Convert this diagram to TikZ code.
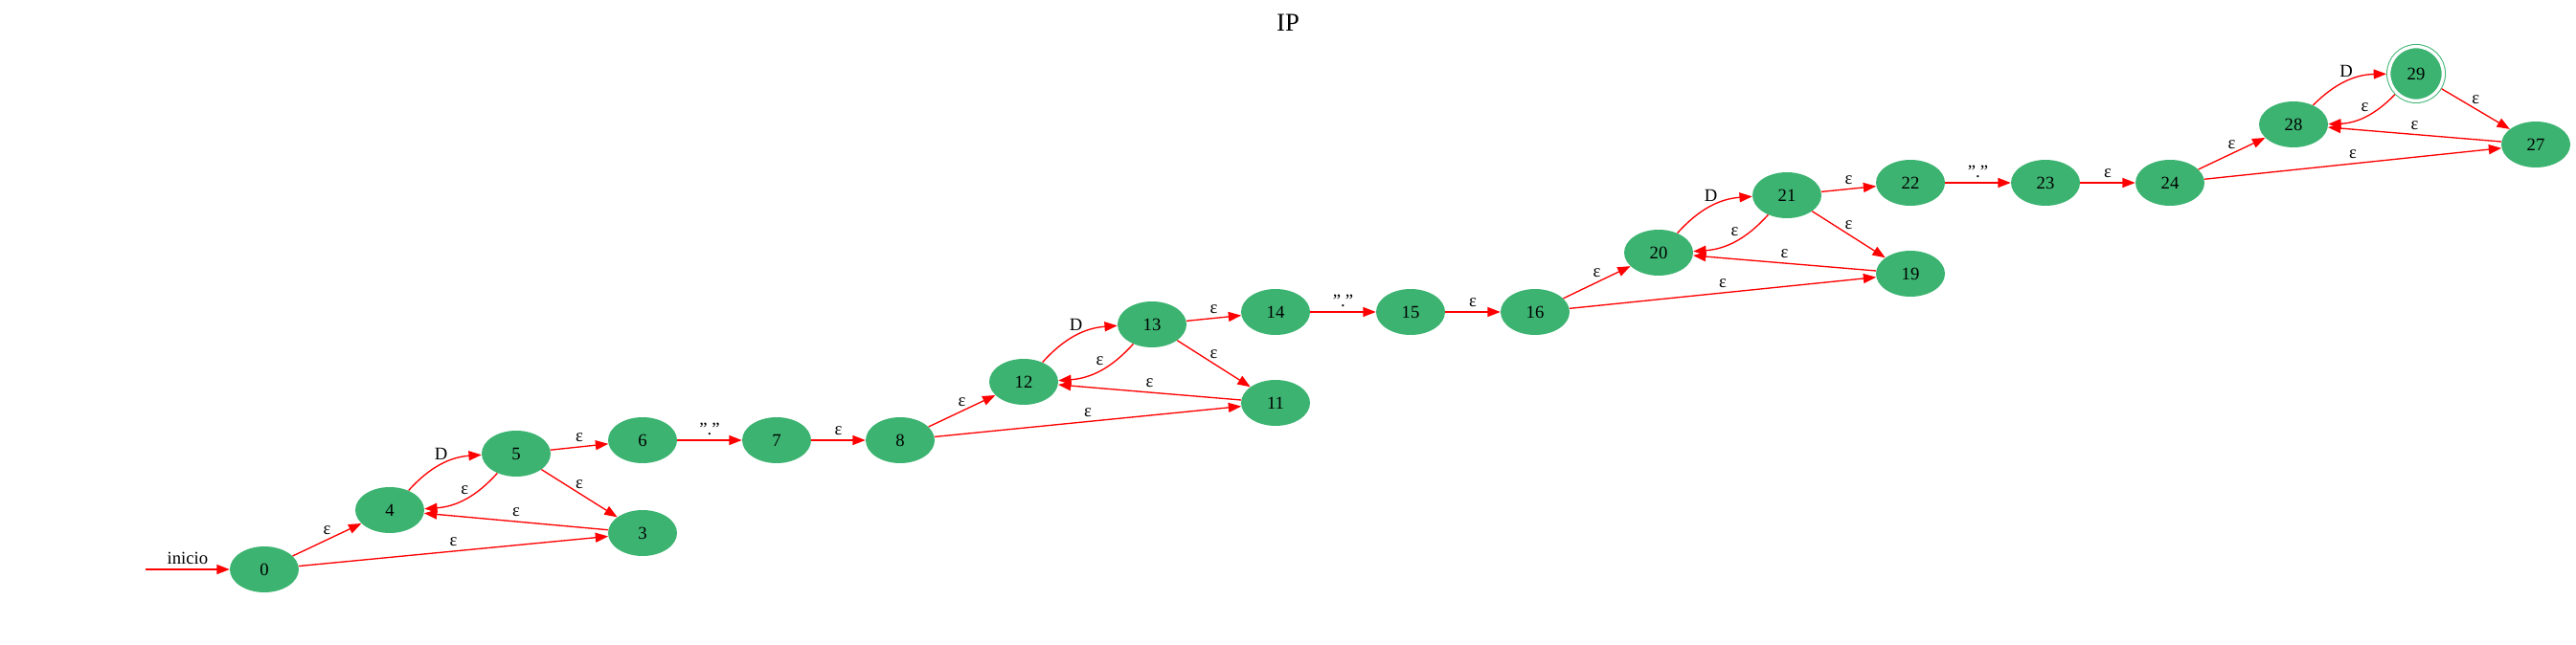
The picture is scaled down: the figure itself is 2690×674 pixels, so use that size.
\documentclass[tikz,border=0pt]{standalone}
\usepackage{fontspec}
\setmainfont{Liberation Serif}
\usepackage{tikz}
\usetikzlibrary{shapes.geometric,arrows.meta}
\definecolor{stategreen}{RGB}{60,179,113}

\begin{document}
\begin{tikzpicture}[
    x=0.75pt, y=-0.75pt,
    font=\fontsize{14}{16}\selectfont,
    state/.style={ellipse, fill=stategreen, minimum width=54pt, minimum height=36pt, inner sep=0pt},
    final/.style={circle, fill=stategreen, draw=stategreen, double=white, double distance=2.5pt, line width=0.75pt, minimum size=42.5pt, inner sep=0pt, outer sep=2pt},
    trans/.style={-{Triangle[length=10pt, width=7.5pt]}, draw=red, line width=1pt},
    lbl/.style={midway, above}
]
\useasboundingbox (0,0) rectangle (2690,674);
\node[font=\fontsize{20}{22}\selectfont] (title) at (1345,24) {IP};

\coordinate (start) at (152,595);
\node[state] (q0) at (276,595) {0};
\node[state] (q4) at (407,533) {4};
\node[state] (q5) at (539,474) {5};
\node[state] (q3) at (671,557) {3};
\node[state] (q6) at (671,460) {6};
\node[state] (q7) at (811,460) {7};
\node[state] (q8) at (940,460) {8};
\node[state] (q12) at (1069,399) {12};
\node[state] (q13) at (1203,339) {13};
\node[state] (q11) at (1332,421) {11};
\node[state] (q14) at (1332,326) {14};
\node[state] (q15) at (1473,326) {15};
\node[state] (q16) at (1603,326) {16};
\node[state] (q20) at (1732,264) {20};
\node[state] (q21) at (1866,204) {21};
\node[state] (q19) at (1995,286) {19};
\node[state] (q22) at (1995,191) {22};
\node[state] (q23) at (2136,191) {23};
\node[state] (q24) at (2266,191) {24};
\node[state] (q28) at (2395,130) {28};
\node[final] (q29) at (2523,77) {29};
\node[state] (q27) at (2648,151) {27};

\draw[trans] (start) -- node[lbl] {inicio} (q0);
\foreach \a/\b/\t in {q0/q4/ε, q0/q3/ε, q5/q6/ε, q5/q3/ε, q3/q4/ε, q6/q7/".", q7/q8/ε,
    q8/q12/ε, q8/q11/ε, q13/q14/ε, q13/q11/ε, q11/q12/ε, q14/q15/".", q15/q16/ε,
    q16/q20/ε, q16/q19/ε, q21/q22/ε, q21/q19/ε, q19/q20/ε, q22/q23/".", q23/q24/ε,
    q24/q28/ε, q24/q27/ε, q29/q27/ε, q27/q28/ε}
  \draw[trans] (\a) -- node[lbl] {\t} (\b);
\foreach \a/\b/\t in {q4/q5/D, q5/q4/ε, q12/q13/D, q13/q12/ε, q20/q21/D, q21/q20/ε, q28/q29/D, q29/q28/ε}
  \draw[trans] (\a) to[bend left=22] node[lbl] {\t} (\b);
\end{tikzpicture}
\end{document}
